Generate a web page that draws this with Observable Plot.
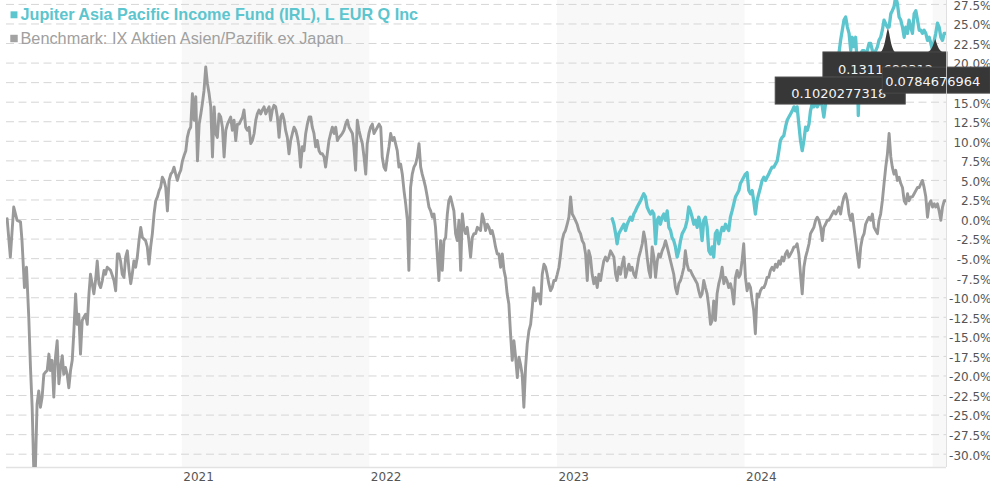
<!DOCTYPE html>
<html>
<head>
<meta charset="utf-8">
<script src="https://cdn.jsdelivr.net/npm/d3@7"></script>
<script src="https://cdn.jsdelivr.net/npm/@observablehq/plot@0.6"></script>
<style>
  html, body { margin: 0; padding: 0; background: #fff; }
  #chart { width: 990px; height: 485px; overflow: hidden; }
</style>
</head>
<body>
<div id="chart"></div>
<script>
// ---------- data ----------
const fundName = "Jupiter Asia Pacific Income Fund (IRL), L EUR Q Inc";
const benchName = "Benchmark: IX Aktien Asien/Pazifik ex Japan";
const yTicks = [-30, -27.5, -25, -22.5, -20, -17.5, -15, -12.5, -10, -7.5, -5, -2.5, 0, 2.5, 5, 7.5, 10, 12.5, 15, 17.5, 20, 22.5, 25, 27.5];
const xTickYears = ["2021-01-01", "2022-01-01", "2023-01-01", "2024-01-01"];
const xDomain = ["2020-01-25", "2025-01-27"];
const yDomain = [-31.7, 28.0];
const shadedStart = ["2021-01-01", "2023-01-01", "2025-01-01"];
const shadedEnd = ["2022-01-01", "2024-01-01", "2025-01-27"];
const dividendDates = ["2024-07-11", "2024-10-06", "2025-01-06"];
const dividendAmounts = ["0.1020277318", "0.1311688312", "0.0784676964"];
const dividendLevels = [20.4, 24.4, 23.0];

// [decimal year, % performance]
const benchmark = [
[2020.069,0.1],[2020.086,-4.8],[2020.104,1.6],[2020.122,-0.1],[2020.140,-0.3],[2020.148,-2.7],[2020.161,-8.7],[2020.172,-6.1],[2020.184,-12.5],[2020.193,-18.9],[2020.202,-24.0],[2020.211,-32.5],[2020.219,-32.0],[2020.228,-23.6],[2020.237,-21.9],[2020.246,-24.0],[2020.255,-22.7],[2020.264,-19.8],[2020.273,-19.5],[2020.282,-19.3],[2020.291,-17.2],[2020.299,-19.3],[2020.308,-18.0],[2020.317,-22.7],[2020.326,-17.6],[2020.335,-15.5],[2020.344,-21.0],[2020.353,-18.9],[2020.362,-17.4],[2020.370,-19.8],[2020.379,-18.9],[2020.388,-19.8],[2020.397,-21.5],[2020.406,-19.3],[2020.415,-18.0],[2020.424,-14.2],[2020.433,-9.5],[2020.441,-13.4],[2020.450,-12.1],[2020.459,-17.2],[2020.468,-12.9],[2020.477,-12.5],[2020.486,-12.1],[2020.495,-13.4],[2020.504,-9.5],[2020.512,-7.0],[2020.521,-8.2],[2020.530,-9.5],[2020.539,-7.8],[2020.548,-5.3],[2020.557,-8.2],[2020.566,-8.7],[2020.575,-7.8],[2020.584,-6.5],[2020.592,-7.0],[2020.601,-6.1],[2020.619,-6.5],[2020.637,-7.8],[2020.646,-9.1],[2020.655,-4.4],[2020.663,-4.4],[2020.672,-5.3],[2020.681,-7.0],[2020.690,-7.4],[2020.699,-4.8],[2020.708,-4.0],[2020.717,-6.5],[2020.726,-8.2],[2020.734,-7.0],[2020.743,-5.3],[2020.752,-6.1],[2020.761,-4.8],[2020.770,-2.7],[2020.779,-1.0],[2020.788,-2.3],[2020.805,-2.7],[2020.814,-3.5],[2020.823,-5.7],[2020.832,-3.5],[2020.841,-1.8],[2020.850,0.7],[2020.859,2.4],[2020.868,2.9],[2020.877,3.7],[2020.885,4.1],[2020.894,5.4],[2020.903,5.0],[2020.912,4.1],[2020.921,1.1],[2020.930,5.0],[2020.939,5.8],[2020.948,6.1],[2020.956,6.7],[2020.965,5.8],[2020.974,5.0],[2020.983,5.8],[2020.992,6.3],[2021.001,7.5],[2021.010,8.2],[2021.019,8.8],[2021.027,10.5],[2021.036,11.4],[2021.045,11.8],[2021.054,16.1],[2021.063,12.7],[2021.072,15.7],[2021.081,7.5],[2021.090,12.2],[2021.099,13.5],[2021.107,14.8],[2021.116,16.5],[2021.125,19.5],[2021.134,17.4],[2021.143,16.1],[2021.152,14.4],[2021.161,8.0],[2021.170,14.4],[2021.178,11.0],[2021.187,10.5],[2021.196,13.5],[2021.205,13.1],[2021.214,11.8],[2021.223,8.0],[2021.232,11.4],[2021.241,12.2],[2021.258,13.1],[2021.267,11.4],[2021.276,12.7],[2021.285,10.1],[2021.294,12.2],
[2021.303,12.2],[2021.321,13.1],[2021.329,14.0],[2021.338,11.8],[2021.347,11.4],[2021.356,11.8],[2021.365,9.7],[2021.374,10.1],[2021.383,11.0],[2021.392,12.7],[2021.400,13.5],[2021.409,14.0],[2021.418,13.5],[2021.427,14.0],[2021.436,14.4],[2021.445,13.5],[2021.454,14.0],[2021.463,14.4],[2021.471,12.7],[2021.480,14.0],[2021.489,14.6],[2021.498,14.4],[2021.507,13.1],[2021.516,10.5],[2021.525,13.1],[2021.534,13.5],[2021.543,12.7],[2021.551,11.4],[2021.560,10.5],[2021.569,8.4],[2021.578,10.1],[2021.587,11.0],[2021.596,11.8],[2021.605,11.4],[2021.614,10.5],[2021.622,9.3],[2021.631,6.7],[2021.640,9.3],[2021.649,8.8],[2021.658,11.0],[2021.667,12.2],[2021.676,13.1],[2021.685,13.1],[2021.693,11.8],[2021.702,11.0],[2021.711,9.3],[2021.720,10.1],[2021.729,8.8],[2021.738,8.4],[2021.747,8.4],[2021.756,8.0],[2021.764,6.7],[2021.773,8.4],[2021.782,10.1],[2021.791,11.0],[2021.800,11.8],[2021.809,11.0],[2021.818,11.8],[2021.827,10.1],[2021.836,10.5],[2021.844,10.7],[2021.853,11.0],[2021.862,11.4],[2021.871,12.2],[2021.880,12.7],[2021.889,11.8],[2021.898,11.4],[2021.907,11.0],[2021.915,9.3],[2021.924,6.3],[2021.933,12.7],[2021.942,11.4],[2021.951,10.5],[2021.960,9.7],[2021.969,8.0],[2021.978,5.8],[2021.986,9.7],[2021.995,11.0],[2022.004,11.8],[2022.013,12.2],[2022.022,11.0],[2022.031,11.4],[2022.040,11.8],[2022.049,12.2],[2022.058,11.8],[2022.066,8.0],[2022.075,6.7],[2022.084,6.3],[2022.093,8.0],[2022.102,9.3],[2022.111,11.0],[2022.120,10.1],[2022.129,10.5],[2022.137,9.7],[2022.146,8.8],[2022.155,6.7],[2022.164,7.1],[2022.173,5.8],[2022.182,3.7],[2022.191,2.0],[2022.200,-0.1],[2022.208,-6.5],[2022.217,4.1],[2022.226,5.8],[2022.235,6.7],[2022.244,7.1],[2022.253,8.0],[2022.262,9.7],[2022.271,6.7],[2022.279,5.8],[2022.288,5.0],[2022.297,4.1],[2022.306,2.9],[2022.315,1.6],[2022.324,1.1],[2022.333,0.3],[2022.342,0.7],[2022.350,-1.0],[2022.359,-4.4],[2022.368,-7.8],[2022.377,-2.7],[2022.386,-6.5],[2022.395,-2.7],[2022.404,-2.3],[2022.413,0.7],[2022.421,2.4],[2022.430,2.9],[2022.439,2.0],[2022.448,1.1],[2022.457,-1.8],[2022.466,-2.7],[2022.475,-0.1],[2022.484,-6.5],[2022.493,0.7],[2022.501,-1.0],[2022.510,-1.8],[2022.519,-1.0],[2022.528,-2.7],[2022.537,-4.8],[2022.546,-2.3],[2022.555,-1.8],
[2022.564,-1.8],[2022.573,-1.0],[2022.590,-1.4],[2022.599,0.7],[2022.608,-0.1],[2022.617,-1.4],[2022.626,-0.6],[2022.635,-1.0],[2022.644,-1.8],[2022.652,-1.4],[2022.661,-2.3],[2022.670,-3.5],[2022.679,-4.4],[2022.688,-4.4],[2022.697,-6.1],[2022.706,-4.4],[2022.715,-6.5],[2022.723,-7.4],[2022.732,-9.5],[2022.741,-10.8],[2022.750,-14.6],[2022.759,-18.0],[2022.768,-15.5],[2022.777,-17.6],[2022.786,-20.2],[2022.795,-17.6],[2022.803,-18.5],[2022.812,-19.8],[2022.821,-24.0],[2022.830,-18.9],[2022.839,-15.9],[2022.848,-14.2],[2022.857,-13.4],[2022.866,-11.2],[2022.874,-8.7],[2022.883,-10.4],[2022.892,-9.5],[2022.901,-9.5],[2022.910,-10.8],[2022.919,-7.0],[2022.928,-5.7],[2022.937,-6.1],[2022.945,-7.0],[2022.954,-8.2],[2022.963,-9.1],[2022.972,-8.7],[2022.981,-7.8],[2022.990,-7.8],[2022.999,-7.0],[2023.008,-6.1],[2023.017,-4.4],[2023.025,-2.7],[2023.034,-1.8],[2023.043,-1.4],[2023.052,-0.6],[2023.061,0.3],[2023.070,2.9],[2023.079,0.7],[2023.088,0.3],[2023.096,-0.1],[2023.105,-0.6],[2023.114,-1.4],[2023.123,-1.8],[2023.132,-2.7],[2023.141,-3.1],[2023.150,-4.4],[2023.159,-7.8],[2023.167,-4.0],[2023.176,-4.8],[2023.185,-7.0],[2023.194,-8.2],[2023.203,-7.4],[2023.212,-8.7],[2023.221,-7.0],[2023.230,-7.8],[2023.238,-6.5],[2023.247,-5.3],[2023.256,-4.8],[2023.265,-5.3],[2023.274,-4.8],[2023.283,-4.0],[2023.292,-4.4],[2023.301,-4.8],[2023.310,-7.0],[2023.318,-7.8],[2023.327,-6.1],[2023.336,-7.0],[2023.345,-5.7],[2023.354,-4.8],[2023.363,-7.4],[2023.372,-6.5],[2023.381,-5.7],[2023.389,-6.5],[2023.398,-6.1],[2023.407,-7.0],[2023.416,-7.4],[2023.425,-6.1],[2023.434,-4.8],[2023.443,-4.0],[2023.452,-3.1],[2023.460,-1.6],[2023.469,-2.7],[2023.478,-4.8],[2023.487,-6.5],[2023.496,-7.4],[2023.505,-3.5],[2023.514,-4.8],[2023.523,-7.4],[2023.532,-5.3],[2023.540,-4.4],[2023.549,-4.8],[2023.558,-4.0],[2023.567,-3.5],[2023.576,-2.7],[2023.585,-3.5],[2023.594,-4.4],[2023.603,-5.3],[2023.611,-6.1],[2023.620,-7.0],[2023.629,-8.7],[2023.638,-9.5],[2023.647,-8.2],[2023.656,-7.8],[2023.665,-7.0],[2023.674,-6.1],[2023.682,-4.0],[2023.691,-5.7],[2023.700,-6.5],[2023.709,-6.5],[2023.718,-7.0],[2023.727,-7.4],[2023.736,-7.8],[2023.745,-8.2],[2023.753,-9.1],[2023.762,-9.9],[2023.771,-9.5],[2023.780,-7.8],[2023.789,-8.7],[2023.798,-9.5],[2023.807,-11.2],[2023.816,-13.4],
[2023.825,-12.9],[2023.833,-10.4],[2023.842,-12.9],[2023.851,-9.5],[2023.860,-8.2],[2023.869,-7.4],[2023.878,-6.1],[2023.887,-8.2],[2023.896,-7.4],[2023.904,-7.8],[2023.913,-8.7],[2023.922,-8.2],[2023.931,-9.1],[2023.940,-10.8],[2023.949,-7.4],[2023.958,-6.5],[2023.967,-7.4],[2023.975,-7.0],[2023.984,-5.3],[2023.993,-3.1],[2024.002,-7.4],[2024.011,-9.1],[2024.020,-8.2],[2024.029,-8.7],[2024.038,-10.4],[2024.046,-11.6],[2024.055,-14.6],[2024.064,-9.5],[2024.073,-9.9],[2024.082,-9.1],[2024.091,-8.7],[2024.100,-8.7],[2024.109,-8.2],[2024.117,-7.4],[2024.126,-7.4],[2024.135,-6.5],[2024.144,-6.1],[2024.153,-6.5],[2024.162,-5.7],[2024.171,-6.1],[2024.180,-5.3],[2024.188,-5.7],[2024.197,-4.8],[2024.206,-5.3],[2024.215,-4.4],[2024.224,-4.0],[2024.233,-4.8],[2024.242,-4.4],[2024.251,-4.0],[2024.260,-3.5],[2024.268,-3.5],[2024.277,-3.1],[2024.286,-4.4],[2024.295,-7.0],[2024.304,-9.5],[2024.313,-6.1],[2024.322,-4.8],[2024.331,-4.0],[2024.340,-3.1],[2024.348,-1.8],[2024.357,-1.4],[2024.366,-1.0],[2024.375,-0.1],[2024.384,0.3],[2024.393,-0.1],[2024.402,-1.0],[2024.411,-2.7],[2024.419,-1.0],[2024.428,-0.6],[2024.437,-0.1],[2024.446,-0.1],[2024.455,0.3],[2024.464,0.7],[2024.473,1.1],[2024.482,0.7],[2024.490,1.1],[2024.499,1.6],[2024.508,0.7],[2024.517,2.0],[2024.526,2.9],[2024.535,3.3],[2024.544,2.4],[2024.553,0.7],[2024.562,-0.1],[2024.570,0.7],[2024.579,-1.0],[2024.588,-2.7],[2024.597,-4.4],[2024.606,-6.1],[2024.615,-3.5],[2024.624,-2.3],[2024.633,-1.8],[2024.641,-0.6],[2024.650,-0.1],[2024.659,0.3],[2024.668,-0.1],[2024.677,0.7],[2024.686,-1.0],[2024.695,-1.4],[2024.704,-1.8],[2024.712,-0.1],[2024.721,0.7],[2024.730,2.4],[2024.739,4.6],[2024.748,6.7],[2024.757,8.4],[2024.766,11.0],[2024.775,8.0],[2024.783,6.7],[2024.792,5.8],[2024.801,6.3],[2024.810,5.0],[2024.819,5.4],[2024.828,4.6],[2024.837,4.1],[2024.846,2.4],[2024.855,2.0],[2024.864,3.3],[2024.872,2.4],[2024.881,2.9],[2024.890,2.9],[2024.899,3.3],[2024.908,3.7],[2024.917,4.1],[2024.926,4.1],[2024.935,4.6],[2024.943,5.0],[2024.952,4.1],[2024.961,2.9],[2024.970,0.3],[2024.979,2.0],[2024.988,2.4],[2024.997,1.6],[2025.006,2.0],[2025.014,1.6],[2025.023,2.0],[2025.032,1.1],[2025.041,-0.1],[2025.050,1.6],[2025.059,2.4],[2025.068,2.4]
];

const fund = [
[2023.292,0.1],[2023.301,-0.6],[2023.310,-1.8],[2023.318,-3.1],[2023.327,-1.8],[2023.336,-1.4],[2023.345,-1.0],[2023.354,-0.6],[2023.363,-1.4],[2023.372,-0.6],[2023.381,-0.1],[2023.389,0.3],[2023.398,-0.1],[2023.407,0.7],[2023.416,1.1],[2023.425,1.6],[2023.434,2.0],[2023.443,2.4],[2023.452,2.9],[2023.460,3.3],[2023.469,2.9],[2023.478,1.6],[2023.487,1.1],[2023.496,0.7],[2023.505,1.1],[2023.514,0.7],[2023.523,-3.1],[2023.532,-0.1],[2023.540,0.3],[2023.549,-0.6],[2023.558,0.3],[2023.567,0.7],[2023.576,-0.1],[2023.585,1.1],[2023.594,-1.0],[2023.603,-1.4],[2023.611,-2.3],[2023.620,-2.7],[2023.629,-3.5],[2023.638,-4.8],[2023.647,-4.0],[2023.656,-2.7],[2023.665,-1.8],[2023.674,-1.4],[2023.682,-1.0],[2023.691,-0.1],[2023.700,1.6],[2023.709,1.1],[2023.718,0.3],[2023.727,-0.6],[2023.736,-0.1],[2023.745,-1.0],[2023.753,0.3],[2023.762,-0.6],[2023.771,-2.7],[2023.780,-0.1],[2023.789,0.3],[2023.798,-1.0],[2023.807,-4.0],[2023.816,-4.4],
[2023.825,-3.5],[2023.833,-4.8],[2023.842,-1.8],[2023.851,-1.4],[2023.860,-3.1],[2023.869,-1.8],[2023.878,-1.0],[2023.887,-1.4],[2023.896,-0.6],[2023.904,-1.0],[2023.913,-1.4],[2023.922,0.3],[2023.931,1.1],[2023.940,2.0],[2023.949,2.9],[2023.958,3.3],[2023.967,3.7],[2023.975,4.6],[2023.984,5.0],[2023.993,5.4],[2024.002,5.8],[2024.011,6.0],[2024.020,3.7],[2024.029,3.3],[2024.038,3.7],[2024.046,2.4],[2024.055,0.7],[2024.064,2.4],[2024.073,3.3],[2024.082,4.1],[2024.091,5.0],[2024.100,5.4],[2024.109,5.0],[2024.117,5.4],[2024.126,5.8],[2024.135,6.3],[2024.144,6.7],[2024.153,6.7],[2024.162,7.1],[2024.171,7.5],[2024.180,8.8],[2024.188,10.1],[2024.197,10.5],[2024.206,10.7],[2024.215,11.8],[2024.224,12.7],[2024.233,13.1],[2024.242,13.5],[2024.251,13.9],[2024.260,14.4],[2024.268,13.9],[2024.277,14.4],[2024.286,12.2],[2024.295,10.1],[2024.304,8.8],[2024.313,10.1],[2024.322,11.8],[2024.331,11.4],[2024.340,12.2],[2024.348,13.9],[2024.357,14.8],[2024.366,14.4],[2024.375,15.2],[2024.384,14.4],[2024.393,14.8],[2024.402,15.2],[2024.411,14.4],[2024.419,13.1],[2024.428,14.8],[2024.437,15.2],[2024.446,15.7],[2024.464,16.5],[2024.482,18.2],[2024.499,21.2],[2024.508,22.9],[2024.517,24.2],[2024.526,25.5],[2024.535,25.9],[2024.544,24.6],[2024.553,23.8],[2024.562,21.6],[2024.570,23.3],[2024.579,22.1],[2024.588,23.3],[2024.597,19.5],[2024.602,13.3],[2024.610,19.5],[2024.615,21.2],[2024.624,21.6],[2024.633,21.6],[2024.641,21.2],[2024.650,21.6],[2024.659,22.5],[2024.668,22.5],[2024.677,21.6],[2024.686,21.2],[2024.695,21.6],[2024.704,22.1],[2024.712,22.9],[2024.721,23.3],[2024.730,24.2],[2024.739,25.5],[2024.748,25.0],[2024.757,24.6],[2024.766,24.6],[2024.775,26.3],[2024.783,26.7],[2024.792,27.2],[2024.801,28.5],[2024.810,27.6],[2024.819,25.9],[2024.828,25.5],[2024.837,24.6],[2024.846,23.3],[2024.855,24.6],[2024.864,23.8],[2024.872,25.5],[2024.881,24.6],[2024.890,23.8],[2024.899,26.3],[2024.908,26.7],[2024.917,25.5],[2024.926,24.2],[2024.935,24.2],[2024.943,23.8],[2024.952,24.2],[2024.961,23.8],[2024.970,22.9],[2024.979,23.3],[2024.988,22.5],[2024.997,21.6],[2025.006,22.9],[2025.014,23.8],[2025.023,25.1],[2025.032,24.6],[2025.041,23.3],[2025.050,22.9],[2025.059,23.8],[2025.068,23.8]
];

// ---------- helpers ----------
const teal = "#5cc5ce";
const grey = "#9a9a9a";
function fromDecimalYear(t) {
  const y = Math.floor(t);
  const a = Date.UTC(y, 0, 1), b = Date.UTC(y + 1, 0, 1);
  return new Date(a + (t - y) * (b - a));
}
const toRows = (arr) => arr.map(([t, v]) => ({date: fromDecimalYear(t), value: v}));
const benchRows = toRows(benchmark);
const fundRows = toRows(fund);
const bands = shadedStart.map((s, i) => ({start: new Date(s), end: new Date(shadedEnd[i])}));
const flags = dividendDates.map((d, i) => ({date: new Date(d), amount: dividendAmounts[i], level: dividendLevels[i]}));

// layout of the dividend callouts (pixel offsets from the flag tip)
const flagLayout = [
  {left: -68, top: 17.6, w: 130, h: 27, tdx: 16, tdy: 21, spike: 17},
  {left: -65, top: 23.8, w: 124, h: 25, tdx: 15, tdy: 22, spike: 23.8},
  {left: -53, top: 28,   w: 108, h: 26, tdx: 3,  tdy: 19, spike: 13}
];

function flagsMark(index, scales) {
  const g = d3.create("svg:g");
  // pointers first, boxes on top
  for (const i of [0, 1, 2]) {
    const f = flags[i], L = flagLayout[i];
    const tx = scales.x(f.date), ty = scales.y(f.level), b = ty + L.spike + 0.5;
    g.append("path")
      .attr("d", `M${tx - 8},${b} C${tx - 3},${b - 2} ${tx - 2},${ty + 5} ${tx},${ty} C${tx + 2},${ty + 5} ${tx + 3},${b - 2} ${tx + 8},${b} Z`)
      .attr("fill", "#373737");
  }
  for (const i of [1, 0, 2]) {
    const f = flags[i], L = flagLayout[i];
    const tx = scales.x(f.date), ty = scales.y(f.level);
    g.append("rect")
      .attr("x", tx + L.left).attr("y", ty + L.top)
      .attr("width", L.w).attr("height", L.h)
      .attr("fill", "#373737").attr("stroke", "#4a4a4a").attr("stroke-width", 1);
    g.append("text")
      .attr("x", tx + L.left + L.tdx).attr("y", ty + L.top + L.tdy)
      .attr("text-anchor", "start")
      .attr("fill", "#f4f4f4").attr("font-size", 13).attr("font-family", "DejaVu Sans")
      .text(f.amount);
  }
  return g.node();
}

const xDom = xDomain.map(d => new Date(d));

const chart = Plot.plot({
  width: 990,
  height: 485,
  marginLeft: 6,
  marginRight: 44,
  marginTop: 0,
  marginBottom: 18,
  style: {fontFamily: "DejaVu Sans", fontSize: "12px", background: "#fff", overflow: "visible"},
  x: {type: "utc", domain: xDom},
  y: {domain: yDomain},
  marks: [
    Plot.rect(bands, {x1: "start", x2: "end", fill: "#f8f8f8"}),
    Plot.gridY(yTicks, {stroke: "#d6d6d6", strokeOpacity: 1, strokeDasharray: "8,4.5", strokeWidth: 1}),
    Plot.ruleY([yDomain[0]], {stroke: "#e2e2e2", strokeWidth: 1.5}),
    Plot.lineY(benchRows, {x: "date", y: "value", stroke: grey, strokeWidth: 2.9, clip: true}),
    Plot.lineY(fundRows, {x: "date", y: "value", stroke: teal, strokeWidth: 3.3, clip: true}),
    Plot.axisY({
      ticks: yTicks, anchor: "right", tickSize: 0, tickPadding: 3,
      textAnchor: "end", dx: 42, dy: 1.5, color: "#555",
      tickFormat: d => d.toFixed(1) + "%", label: null
    }),
    Plot.axisX({
      ticks: xTickYears.map(d => new Date(d)), tickSize: 0, tickPadding: 5,
      tickFormat: d3.utcFormat("%Y"), textAnchor: "start", dx: 1, color: "#555", label: null
    }),
    flagsMark,
    Plot.ruleX([xDom[1]], {stroke: "#d8d8d8", strokeOpacity: 0.8, strokeWidth: 1}),
    Plot.dot([fundName], {frameAnchor: "top-left", dx: 7.5, dy: 14.3, symbol: "square", r: 3.9, fill: teal, stroke: null}),
    Plot.dot([benchName], {frameAnchor: "top-left", dx: 7.5, dy: 38, symbol: "square", r: 4.2, fill: "#a3a3a3", stroke: null}),
    Plot.text([fundName], {text: d => d, frameAnchor: "top-left", dx: 14, dy: 19.5, textAnchor: "start", lineAnchor: "bottom",
      fill: teal, fontWeight: "bold", fontSize: 16.2, fontFamily: "Liberation Sans, Arial, sans-serif"}),
    Plot.text([benchName], {text: d => d, frameAnchor: "top-left", dx: 14, dy: 43.8, textAnchor: "start", lineAnchor: "bottom",
      fill: "#a0a0a0", fontSize: 16.3, fontFamily: "Liberation Sans, Arial, sans-serif"})
  ]
});
document.getElementById("chart").appendChild(chart);
</script>
</body>
</html>
